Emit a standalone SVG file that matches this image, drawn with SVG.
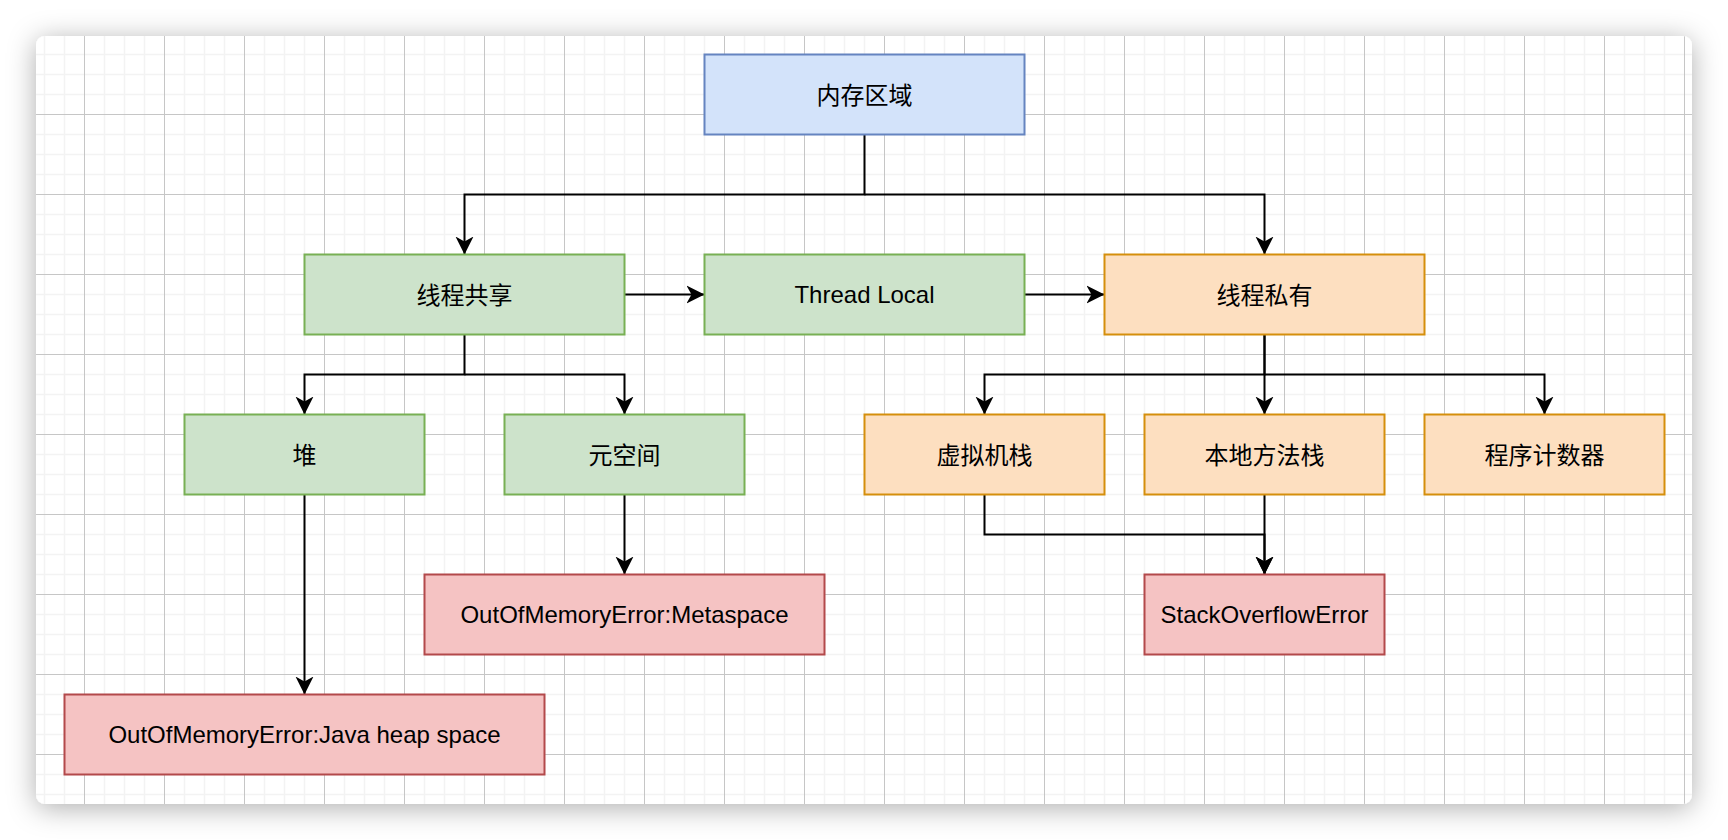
<svg xmlns="http://www.w3.org/2000/svg" width="1728" height="840" viewBox="0 0 1728 840">
  <defs>
    <style>
      .box { stroke-width: 2; }
      .blue { fill: #d3e3fa; stroke: #6584c0; }
      .green { fill: #cde3cb; stroke: #78b054; }
      .orange { fill: #fddfc0; stroke: #d58f0c; }
      .red { fill: #f5c3c3; stroke: #b3494b; }
      .lbl { font-family: "Liberation Sans", "Noto Sans CJK SC", sans-serif; font-size: 24px; fill: #000; text-anchor: middle; }
      .edge { fill: none; stroke: #000; stroke-width: 2; stroke-linejoin: miter; marker-end: url(#arrow); }
    </style>
    <marker id="arrow" markerUnits="userSpaceOnUse" markerWidth="20" markerHeight="20" viewBox="0 0 20 20" refX="18" refY="10" orient="auto">
      <path d="M0,1 L18,10 L0,19 L5,10 Z" fill="#000"/>
    </marker>
    <pattern id="grid" patternUnits="userSpaceOnUse" x="4" y="34" width="80" height="80">
      <path d="M20.5,0 V80 M40.5,0 V80 M60.5,0 V80 M0,20.5 H80 M0,40.5 H80 M0,60.5 H80" stroke="#f3f3f3" stroke-width="1.5" fill="none"/>
      <path d="M0.5,0 V80 M0,0.5 H80" stroke="#c6c6c6" stroke-width="1" fill="none"/>
    </pattern>
    <filter id="shadow" x="-10%" y="-10%" width="120%" height="125%">
      <feDropShadow dx="0" dy="4" stdDeviation="14" flood-color="#000" flood-opacity="0.32"/>
    </filter>
  </defs>

  <rect x="0" y="0" width="1728" height="840" fill="#ffffff"/>
  <g id="card">
    <rect x="36" y="36" width="1656" height="768" rx="9" fill="#ffffff" filter="url(#shadow)"/>
    <rect x="36" y="36" width="1656" height="768" rx="9" fill="url(#grid)"/>
  </g>

  <g id="connectors">
    <path class="edge" d="M864.5,134.5 V194.5 H464.5 V254.5"/>
    <path class="edge" d="M864.5,194.5 H1264.5 V254.5"/>
    <path class="edge" d="M624.5,294.5 H704.5"/>
    <path class="edge" d="M1024.5,294.5 H1104.5"/>
    <path class="edge" d="M464.5,334.5 V374.5 H304.5 V414.5"/>
    <path class="edge" d="M464.5,374.5 H624.5 V414.5"/>
    <path class="edge" d="M1264.5,334.5 V374.5 H984.5 V414.5"/>
    <path class="edge" d="M1264.5,334.5 V414.5"/>
    <path class="edge" d="M1264.5,374.5 H1544.5 V414.5"/>
    <path class="edge" d="M304.5,494.5 V694.5"/>
    <path class="edge" d="M624.5,494.5 V574.5"/>
    <path class="edge" d="M984.5,494.5 V534.5 H1264.5 V574.5"/>
    <path class="edge" d="M1264.5,494.5 V574.5"/>
  </g>

  <g id="memory-area">
    <rect class="box blue" x="704.5" y="54.5" width="320" height="80"/>
    <text class="lbl" x="864.5" y="103.5">内存区域</text>
  </g>
  <g id="thread-shared">
    <rect class="box green" x="304.5" y="254.5" width="320" height="80"/>
    <text class="lbl" x="464.5" y="303.5">线程共享</text>
  </g>
  <g id="thread-local">
    <rect class="box green" x="704.5" y="254.5" width="320" height="80"/>
    <text class="lbl" x="864.5" y="303">Thread Local</text>
  </g>
  <g id="thread-private">
    <rect class="box orange" x="1104.5" y="254.5" width="320" height="80"/>
    <text class="lbl" x="1264.5" y="303.5">线程私有</text>
  </g>
  <g id="heap">
    <rect class="box green" x="184.5" y="414.5" width="240" height="80"/>
    <text class="lbl" x="304.5" y="463.5">堆</text>
  </g>
  <g id="metaspace">
    <rect class="box green" x="504.5" y="414.5" width="240" height="80"/>
    <text class="lbl" x="624.5" y="463.5">元空间</text>
  </g>
  <g id="vm-stack">
    <rect class="box orange" x="864.5" y="414.5" width="240" height="80"/>
    <text class="lbl" x="984.5" y="463.5">虚拟机栈</text>
  </g>
  <g id="native-stack">
    <rect class="box orange" x="1144.5" y="414.5" width="240" height="80"/>
    <text class="lbl" x="1264.5" y="463.5">本地方法栈</text>
  </g>
  <g id="pc-register">
    <rect class="box orange" x="1424.5" y="414.5" width="240" height="80"/>
    <text class="lbl" x="1544.5" y="463.5">程序计数器</text>
  </g>
  <g id="oom-metaspace">
    <rect class="box red" x="424.5" y="574.5" width="400" height="80"/>
    <text class="lbl" x="624.5" y="623">OutOfMemoryError:Metaspace</text>
  </g>
  <g id="stack-overflow">
    <rect class="box red" x="1144.5" y="574.5" width="240" height="80"/>
    <text class="lbl" x="1264.5" y="623">StackOverflowError</text>
  </g>
  <g id="oom-heap">
    <rect class="box red" x="64.5" y="694.5" width="480" height="80"/>
    <text class="lbl" x="304.5" y="743">OutOfMemoryError:Java heap space</text>
  </g>
</svg>
